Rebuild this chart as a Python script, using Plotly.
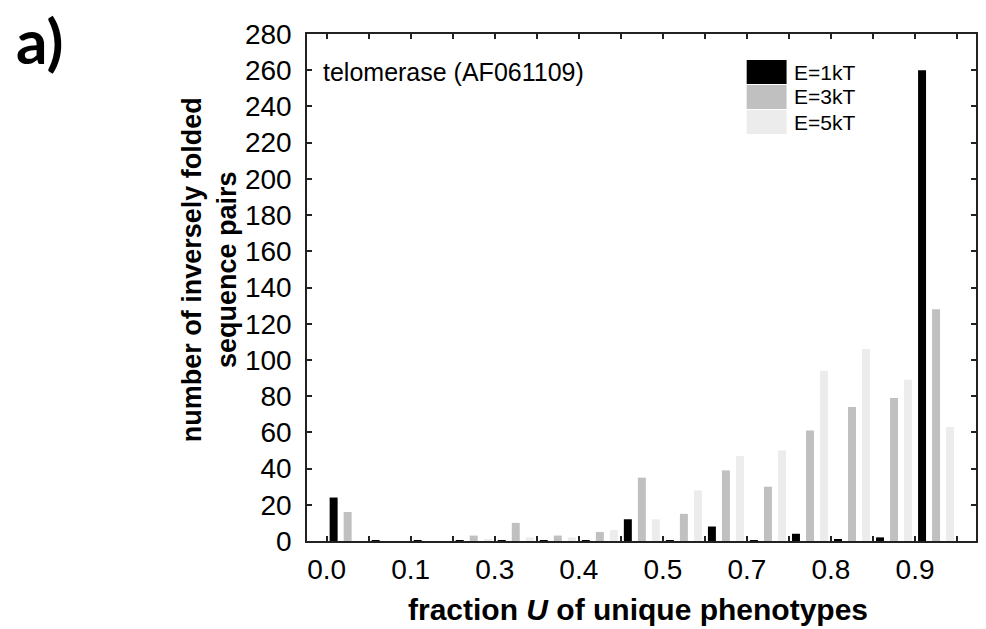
import plotly.graph_objects as go

# ---- data ----
bins = list(range(15))  # 15 histogram bins of U
series_names = ["E=1kT", "E=3kT", "E=5kT"]
e1 = [24, 0.5, 0.5, 0.5, 0.5, 0.5, 0.5, 12, 0.5, 8, 0.5, 4, 1, 2, 260]
e3 = [16, 0, 0, 3, 10, 3, 5, 35, 15, 39, 30, 61, 74, 79, 128]
e5 = [0, 0, 0, 1, 2, 2, 6, 12, 28, 47, 50, 94, 106, 89, 63]
tick_pos = [i - 0.5 for i in range(16)]
tick_labels = ["0.0", "", "0.1", "", "0.3", "", "0.4", "", "0.5", "", "0.7", "", "0.8", "", "0.9", ""]
y_ticks = list(range(0, 281, 20))

colors = ["#000000", "#c0c0c0", "#ececec"]
FONT = "Arial, Liberation Sans, sans-serif"

fig = go.Figure()
for name, vals, c in zip(series_names, [e1, e3, e5], colors):
    fig.add_trace(go.Bar(x=bins, y=vals, name=name, marker=dict(color=c, line=dict(width=0)),
                         showlegend=False))

L, R, T, B = 307, 8, 34, 88
W, H = 986, 629
pw, ph = W - L - R, H - T - B

def px(x):
    return (x - L) / pw

def py(y):
    return (H - B - y) / ph

fig.update_layout(
    width=W, height=H,
    margin=dict(l=L, r=R, t=T, b=B),
    paper_bgcolor="white", plot_bgcolor="white",
    barmode="group", bargap=0.0, bargroupgap=0.43,
    font=dict(family=FONT, color="black"),
)
axis_common = dict(showline=True, linecolor="#222", linewidth=1.5, mirror="ticks",
                   ticks="inside", ticklen=5, tickwidth=1.5, tickcolor="#222",
                   showgrid=False, zeroline=False, tickfont=dict(family=FONT, size=28, color="black"))
fig.update_xaxes(range=[-0.967, 14.95], tickmode="array", tickvals=tick_pos, ticktext=tick_labels,
                 ticklabelstandoff=3, **axis_common)
fig.update_yaxes(range=[0, 280], tickmode="array", tickvals=y_ticks,
                 ticklabelstandoff=8, **axis_common)

ann = []
ann.append(dict(text="<b>fraction <i>U</i> of unique phenotypes</b>", xref="paper", yref="paper",
                x=px(639), y=py(609), xanchor="center", yanchor="middle", showarrow=False,
                font=dict(family=FONT, size=30, color="black")))
ann.append(dict(text="<b>number of inversely folded<br>sequence pairs</b>", xref="paper", yref="paper",
                x=px(209), y=py(270), xanchor="center", yanchor="middle", showarrow=False, textangle=-90,
                font=dict(family=FONT, size=27, color="black")))
ann.append(dict(text="telomerase (AF061109)", xref="paper", yref="paper",
                x=px(321), y=py(72), xanchor="left", yanchor="middle", showarrow=False,
                font=dict(family=FONT, size=25, color="black")))
ann.append(dict(text="<b>a)</b>", xref="paper", yref="paper",
                x=px(13), y=py(40), xanchor="left", yanchor="middle", showarrow=False,
                font=dict(family="Lato, Open Sans, sans-serif", size=62, color="black")))

shapes = []
row_top = [60, 85, 110]
for i, (name, c) in enumerate(zip(series_names, colors)):
    y0 = row_top[i]
    shapes.append(dict(type="rect", xref="paper", yref="paper",
                       x0=px(748), x1=px(788), y0=py(y0 + 24), y1=py(y0),
                       fillcolor=c, line=dict(width=0)))
    ann.append(dict(text=name, xref="paper", yref="paper", x=px(793), y=py(y0 + 12),
                    xanchor="left", yanchor="middle", showarrow=False,
                    font=dict(family=FONT, size=21, color="black")))

fig.update_layout(annotations=ann, shapes=shapes)
fig.write_html("out.html")
